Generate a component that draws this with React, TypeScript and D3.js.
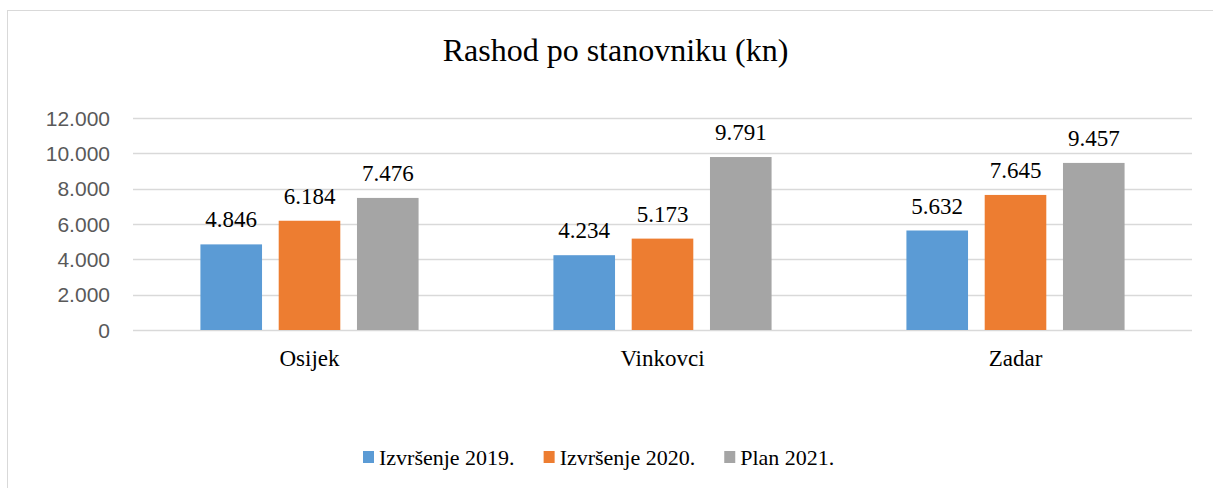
import React, { useEffect, useRef } from 'react';
import * as d3 from 'd3';

// values
const categories = ['Osijek', 'Vinkovci', 'Zadar'];
const seriesNames = ['Izvršenje 2019.', 'Izvršenje 2020.', 'Plan 2021.'];
const izvrsenje2019 = [4846, 4234, 5632];
const izvrsenje2020 = [6184, 5173, 7645];
const plan2021 = [7476, 9791, 9457];
const seriesColors = ['#5B9BD5', '#ED7D31', '#A5A5A5'];
const yTicks = [0, 2000, 4000, 6000, 8000, 10000, 12000];

const W = 1213;
const H = 488;
const SERIF = '"Liberation Serif", "Times New Roman", serif';
const SANS = '"Liberation Sans", Arial, sans-serif';

const fmt = (v: number) => d3.format(',')(v).replace(/,/g, '.');

export default function App() {
  const svgRef = useRef<SVGSVGElement>(null);

  useEffect(() => {
    const svg = d3.select(svgRef.current);
    svg.selectAll('*').remove();

    const margin = { top: 118, right: 21, bottom: 158, left: 133 };
    const width = W - margin.left - margin.right;
    const height = H - margin.top - margin.bottom;

    // chart frame
    svg.append('rect')
      .attr('x', 7.5).attr('y', 10.5)
      .attr('width', 1230).attr('height', 500)
      .attr('fill', '#fff')
      .attr('stroke', '#d9d9d9')
      .attr('stroke-width', 1);

    svg.append('text')
      .attr('x', 615.5).attr('y', 61)
      .attr('text-anchor', 'middle')
      .attr('font-family', SERIF)
      .attr('font-size', 32)
      .attr('fill', '#000')
      .text('Rashod po stanovniku (kn)');

    const g = svg.append('g').attr('transform', `translate(${margin.left},${margin.top})`);

    const x0 = d3.scaleBand().domain(categories).range([0, width]).padding(0);
    const groupW = x0.bandwidth() * 0.618;
    const x1 = d3.scaleBand<number>()
      .domain([0, 1, 2])
      .range([-groupW / 2, groupW / 2])
      .paddingInner(0.213)
      .paddingOuter(0);
    const y = d3.scaleLinear().domain([0, 12000]).range([height, 0]);

    // gridlines
    g.selectAll('.grid')
      .data(yTicks)
      .enter()
      .append('line')
      .attr('x1', 0).attr('x2', width)
      .attr('y1', d => Math.round(y(d)) + 0.5)
      .attr('y2', d => Math.round(y(d)) + 0.5)
      .attr('stroke', '#d9d9d9')
      .attr('stroke-width', 1.3);

    g.selectAll('.ytick')
      .data(yTicks)
      .enter()
      .append('text')
      .attr('x', -23)
      .attr('y', d => y(d))
      .attr('dy', '0.36em')
      .attr('text-anchor', 'end')
      .attr('font-family', SANS)
      .attr('font-size', 21)
      .attr('fill', '#595959')
      .text(d => fmt(d));

    const series = [izvrsenje2019, izvrsenje2020, plan2021];
    const cells = categories.flatMap((c, ci) =>
      series.map((s, si) => ({ c, si, v: s[ci] }))
    );

    const bars = g.selectAll('.bar')
      .data(cells)
      .enter()
      .append('g');

    bars.append('rect')
      .attr('x', d => (x0(d.c) as number) + x0.bandwidth() / 2 + (x1(d.si) as number))
      .attr('y', d => y(d.v))
      .attr('width', x1.bandwidth())
      .attr('height', d => height - y(d.v))
      .attr('fill', d => seriesColors[d.si]);

    bars.append('text')
      .attr('x', d => (x0(d.c) as number) + x0.bandwidth() / 2 + (x1(d.si) as number) + x1.bandwidth() / 2)
      .attr('y', d => y(d.v) - 17)
      .attr('text-anchor', 'middle')
      .attr('font-family', SERIF)
      .attr('font-size', 23)
      .attr('fill', '#000')
      .text(d => fmt(d.v));

    g.selectAll('.cat')
      .data(categories)
      .enter()
      .append('text')
      .attr('x', d => (x0(d) as number) + x0.bandwidth() / 2)
      .attr('y', height + 36)
      .attr('text-anchor', 'middle')
      .attr('font-family', SERIF)
      .attr('font-size', 23)
      .attr('fill', '#000')
      .text(d => d);

    // legend
    const legend = svg.append('g').attr('transform', 'translate(363,465)');
    let lx = 0;
    seriesNames.forEach((name, i) => {
      const item = legend.append('g').attr('transform', `translate(${lx},0)`);
      item.append('rect')
        .attr('x', 0).attr('y', -14)
        .attr('width', 11).attr('height', 12)
        .attr('fill', seriesColors[i]);
      const t = item.append('text')
        .attr('x', 16).attr('y', 0)
        .attr('font-family', SERIF)
        .attr('font-size', 22)
        .attr('fill', '#000')
        .text(name);
      const tw = (t.node() as SVGTextElement).getComputedTextLength();
      lx += 16 + tw + 29;
    });
  }, []);

  return (
    <div style={{ position: 'absolute', left: 0, top: 0 }}>
      <svg ref={svgRef} width={W} height={H} style={{ display: 'block', background: '#fff' }} />
    </div>
  );
}
